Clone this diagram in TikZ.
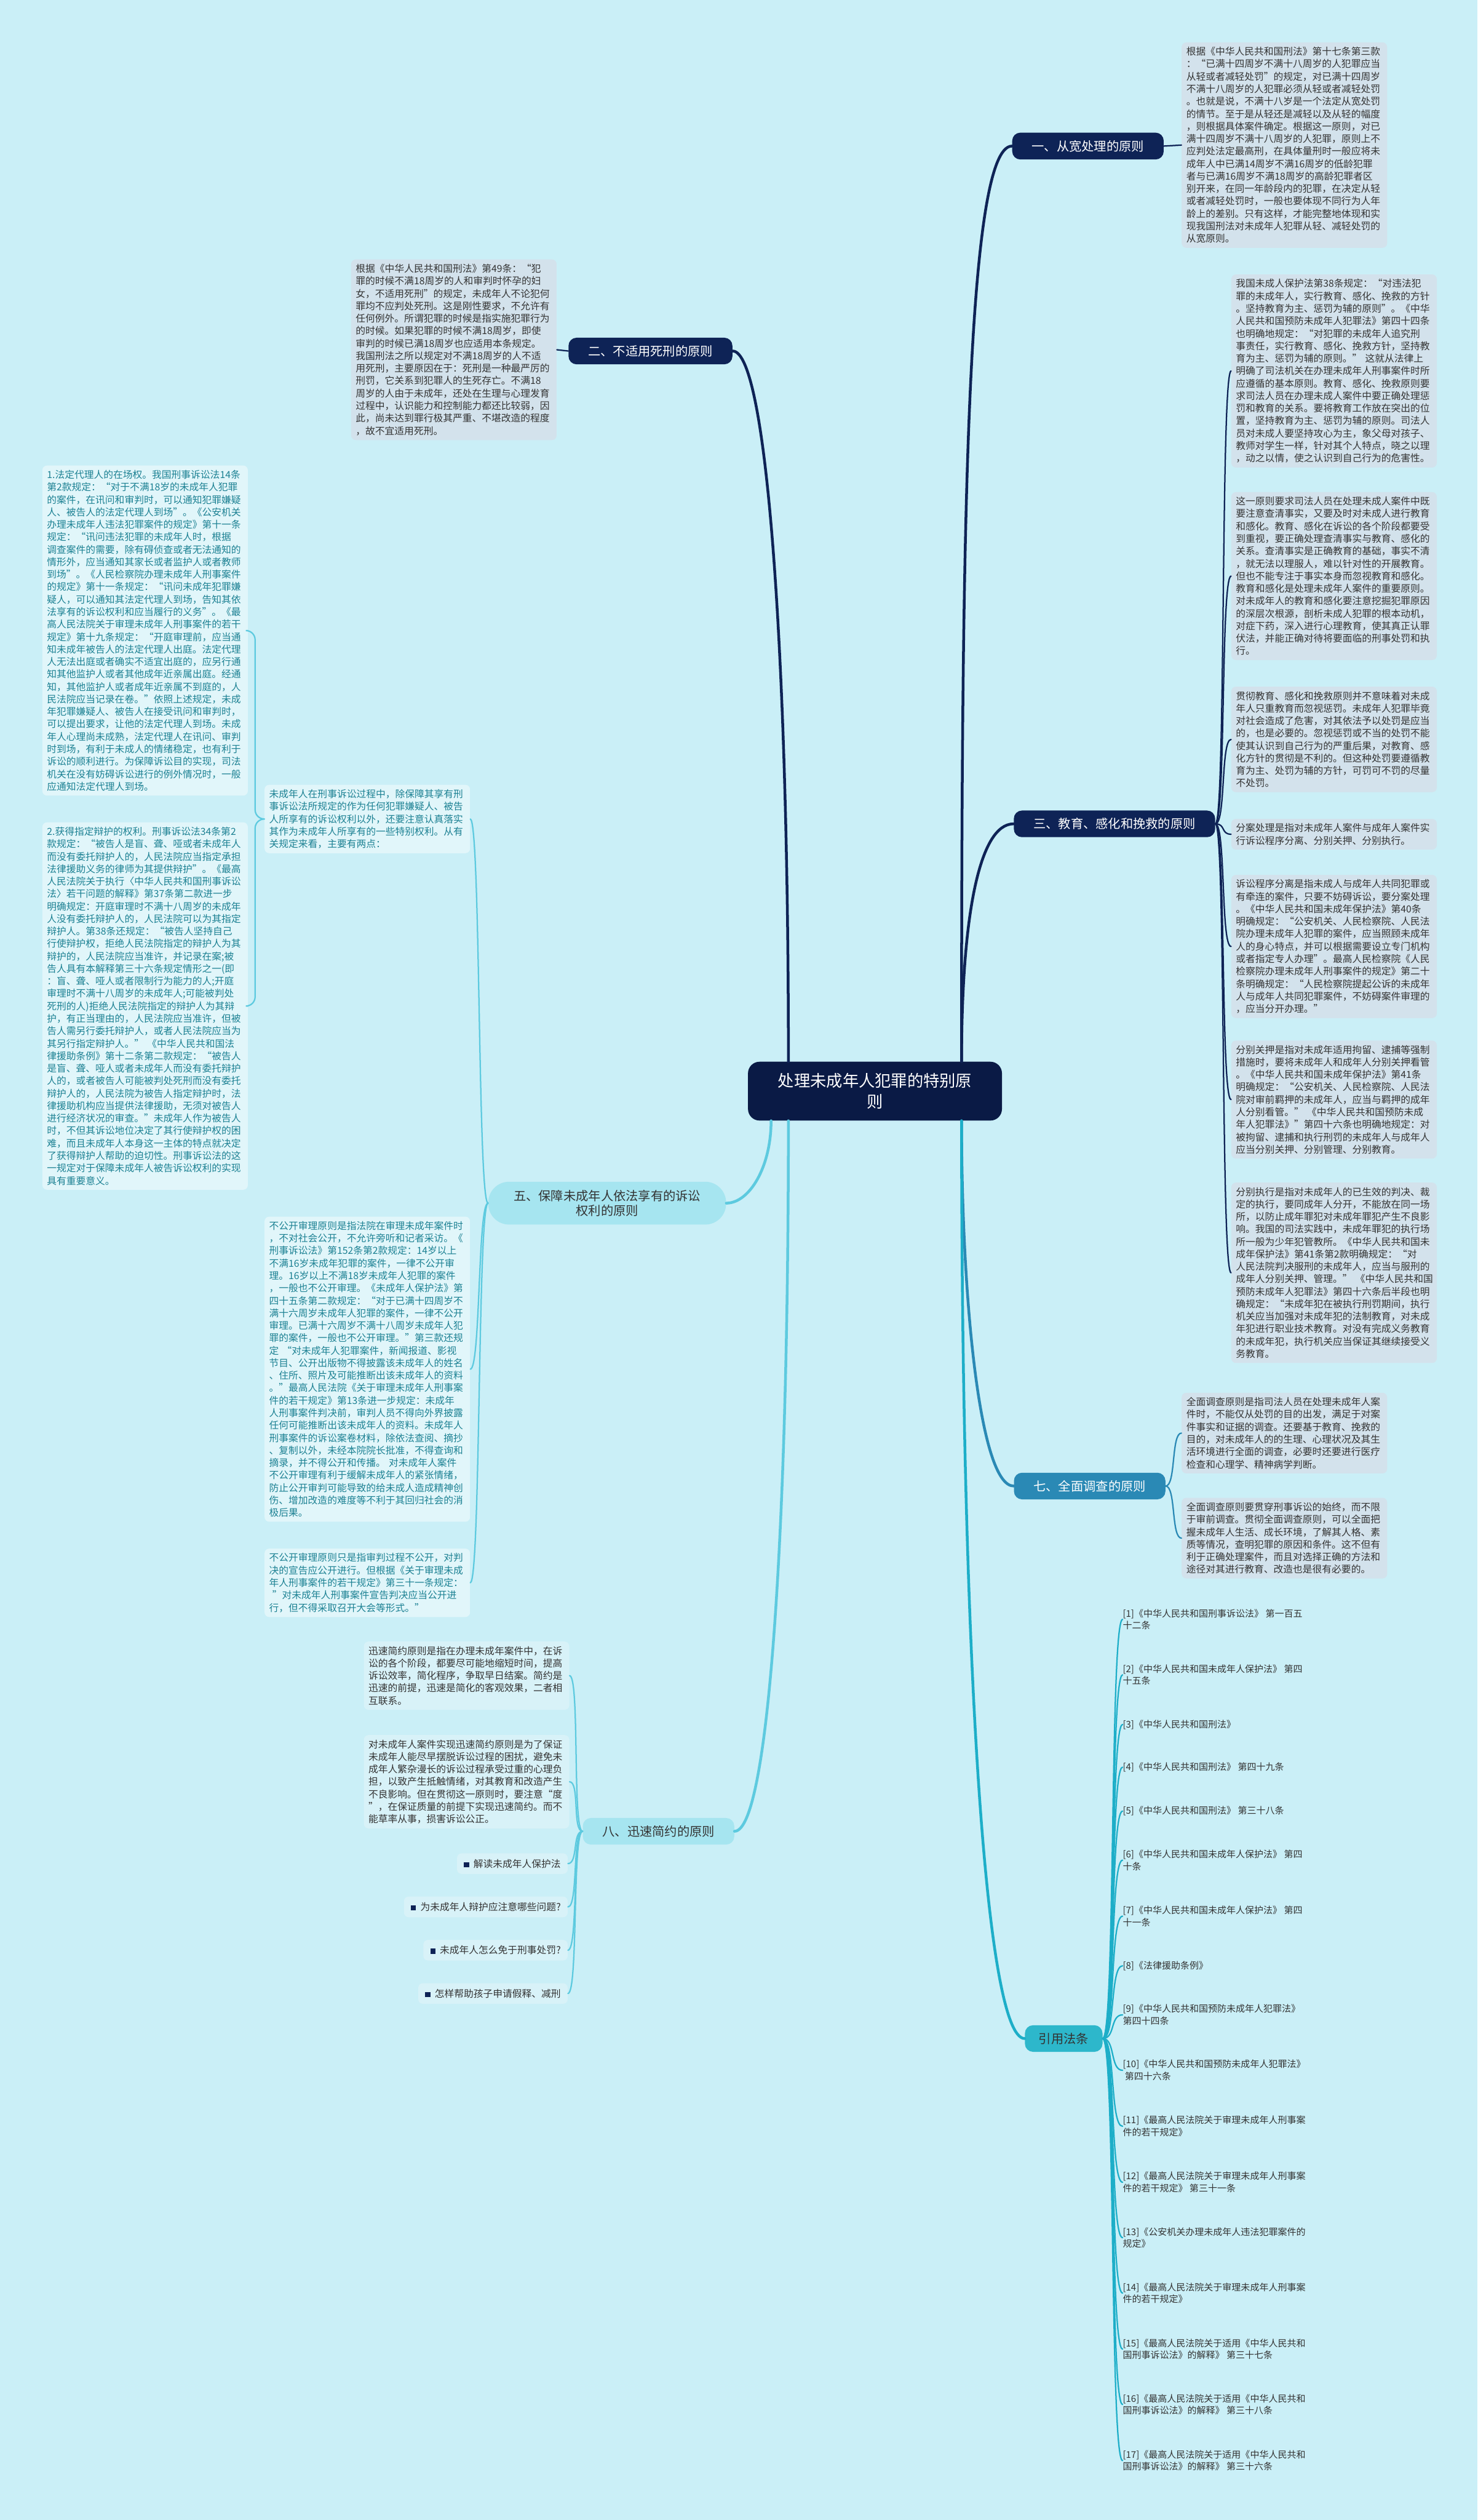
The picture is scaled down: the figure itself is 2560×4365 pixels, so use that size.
\documentclass[tikz,border=0pt]{standalone}
\usepackage{fontspec}
\setmainfont{Noto Sans CJK SC}
\usetikzlibrary{calc}

\definecolor{bgcol}{HTML}{CAEFF7}
\definecolor{ctrcol}{HTML}{0A1A45}
\definecolor{navy}{HTML}{0E2356}
\definecolor{bluecol}{HTML}{2A89B5}
\definecolor{cyanfill}{HTML}{A6E5F0}
\definecolor{cyanline}{HTML}{5DCADF}
\definecolor{tealfill}{HTML}{2DB7CB}
\definecolor{tealline}{HTML}{1DAEC8}
\definecolor{leafgray}{HTML}{D3E2EC}
\definecolor{leaflight}{HTML}{E1F6FA}
\definecolor{leaftext}{HTML}{1C8193}
\definecolor{leafcyan}{HTML}{D8F2F8}
\definecolor{textdark}{HTML}{333333}

\begin{document}
\begin{tikzpicture}[x=0.5pt, y=-0.5pt,
  root/.style={rectangle, rounded corners=10pt, fill=ctrcol, text=white,
    font=\fontsize{14}{18}\selectfont, align=center, inner xsep=26pt, inner ysep=10pt},
  topic/.style={rectangle, rounded corners=7pt, font=\fontsize{10.8}{13}\selectfont,
    align=center, inner xsep=17pt, inner ysep=6.5pt},
  darktopic/.style={topic, fill=navy, text=white},
  bluetopic/.style={topic, fill=bluecol, text=white},
  cyantopic/.style={topic, fill=cyanfill, text=textdark},
  tealtopic/.style={topic, fill=tealfill, text=textdark},
  leaf/.style={rectangle, rounded corners=4pt, anchor=north west, align=left,
    text width=170pt, inner xsep=4pt, inner ysep=4pt, font=\fontsize{8.4}{10.8}\selectfont},
  grayleaf/.style={leaf, fill=leafgray, text=textdark},
  lightleaf/.style={leaf, fill=leaflight, text=leaftext},
  cyanleaf/.style={leaf, fill=leafcyan, text=textdark},
  tipbox/.style={rectangle, rounded corners=4pt, anchor=east, fill=leafcyan, text=textdark,
    font=\fontsize{8.4}{10.8}\selectfont, inner xsep=6pt, inner ysep=5pt},
  refitem/.style={anchor=west, align=left, inner sep=0pt, text=textdark,
    font=\fontsize{8}{10.5}\selectfont},
  trunk/.style={line width=2.4pt, line cap=round},
  twig/.style={line width=1.2pt, line cap=round}
]
\fill[bgcol] (0,0) rectangle (2560,4365);
\useasboundingbox (0,0) rectangle (2560,4365);

\node[root] (ctr) at (1516,1890) {处理未成年人犯罪的特别原\\则};
\node[darktopic] (kuan) at (1885,253) {一、从宽处理的原则};
\node[darktopic] (sixing) at (1127,608) {二、不适用死刑的原则};
\node[darktopic] (jiaoyu) at (1931,1427) {三、教育、感化和挽救的原则};
\node[cyantopic, rounded corners=18pt, inner xsep=22pt, inner ysep=7pt] (susong) at (1052,2084)
  {五、保障未成年人依法享有的诉讼\\权利的原则};
\node[bluetopic] (diaocha) at (1888,2574) {七、全面调查的原则};
\node[cyantopic] (xunsu) at (1141,3172) {八、迅速简约的原则};
\node[tealtopic, inner xsep=12pt] (fatiao) at (1843,3531) {引用法条};

\node[grayleaf] (kuanT) at (2047,73) {根据《中华人民共和国刑法》第十七条第三款\\
：“已满十四周岁不满十八周岁的人犯罪应当\\
从轻或者减轻处罚”的规定，对已满十四周岁\\
不满十八周岁的人犯罪必须从轻或者减轻处罚\\
。也就是说，不满十八岁是一个法定从宽处罚\\
的情节。至于是从轻还是减轻以及从轻的幅度\\
，则根据具体案件确定。根据这一原则，对已\\
满十四周岁不满十八周岁的人犯罪，原则上不\\
应判处法定最高刑，在具体量刑时一般应将未\\
成年人中已满14周岁不满16周岁的低龄犯罪\\
者与已满16周岁不满18周岁的高龄犯罪者区\\
别开来，在同一年龄段内的犯罪，在决定从轻\\
或者减轻处罚时，一般也要体现不同行为人年\\
龄上的差别。只有这样，才能完整地体现和实\\
现我国刑法对未成年人犯罪从轻、减轻处罚的\\
从宽原则。};

\node[grayleaf] (sixingT) at (608,449) {根据《中华人民共和国刑法》第49条：“犯\\
罪的时候不满18周岁的人和审判时怀孕的妇\\
女，不适用死刑”的规定，未成年人不论犯何\\
罪均不应判处死刑。这是刚性要求，不允许有\\
任何例外。所谓犯罪的时候是指实施犯罪行为\\
的时候。如果犯罪的时候不满18周岁，即使\\
审判的时候已满18周岁也应适用本条规定。\\
我国刑法之所以规定对不满18周岁的人不适\\
用死刑，主要原因在于：死刑是一种最严厉的\\
刑罚，它关系到犯罪人的生死存亡。不满18\\
周岁的人由于未成年，还处在生理与心理发育\\
过程中，认识能力和控制能力都还比较弱，因\\
此，尚未达到罪行极其严重、不堪改造的程度\\
，故不宜适用死刑。};

\node[grayleaf] (jiaoyuA) at (2133,475) {我国未成人保护法第38条规定：“对违法犯\\
罪的未成年人，实行教育、感化、挽救的方针\\
。坚持教育为主、惩罚为辅的原则”。《中华\\
人民共和国预防未成年人犯罪法》第四十四条\\
也明确地规定：“对犯罪的未成年人追究刑\\
事责任，实行教育、感化、挽救方针，坚持教\\
育为主、惩罚为辅的原则。”~这就从法律上\\
明确了司法机关在办理未成年人刑事案件时所\\
应遵循的基本原则。教育、感化、挽救原则要\\
求司法人员在办理未成人案件中要正确处理惩\\
罚和教育的关系。要将教育工作放在突出的位\\
置，坚持教育为主、惩罚为辅的原则。司法人\\
员对未成人要坚持攻心为主，象父母对孩子、\\
教师对学生一样，针对其个人特点，晓之以理\\
，动之以情，使之认识到自己行为的危害性。};

\node[grayleaf] (jiaoyuB) at (2133,852) {这一原则要求司法人员在处理未成人案件中既\\
要注意查清事实，又要及时对未成人进行教育\\
和感化。教育、感化在诉讼的各个阶段都要受\\
到重视，要正确处理查清事实与教育、感化的\\
关系。查清事实是正确教育的基础，事实不清\\
，就无法以理服人，难以针对性的开展教育。\\
但也不能专注于事实本身而忽视教育和感化。\\
教育和感化是处理未成年人案件的重要原则。\\
对未成年人的教育和感化要注意挖掘犯罪原因\\
的深层次根源，剖析未成人犯罪的根本动机，\\
对症下药，深入进行心理教育，使其真正认罪\\
伏法，并能正确对待将要面临的刑事处罚和执\\
行。};

\node[grayleaf] (jiaoyuC) at (2133,1189) {贯彻教育、感化和挽救原则并不意味着对未成\\
年人只重教育而忽视惩罚。未成年人犯罪毕竟\\
对社会造成了危害，对其依法予以处罚是应当\\
的，也是必要的。忽视惩罚或不当的处罚不能\\
使其认识到自己行为的严重后果，对教育、感\\
化方针的贯彻是不利的。但这种处罚要遵循教\\
育为主、处罚为辅的方针，可罚可不罚的尽量\\
不处罚。};

\node[grayleaf] (jiaoyuD) at (2133,1418) {分案处理是指对未成年人案件与成年人案件实\\
行诉讼程序分离、分别关押、分别执行。};

\node[grayleaf] (jiaoyuE) at (2133,1515) {诉讼程序分离是指未成人与成年人共同犯罪或\\
有牵连的案件，只要不妨碍诉讼，要分案处理\\
。《中华人民共和国未成年保护法》第40条\\
明确规定：“公安机关、人民检察院、人民法\\
院办理未成年人犯罪的案件，应当照顾未成年\\
人的身心特点，并可以根据需要设立专门机构\\
或者指定专人办理”。最高人民检察院《人民\\
检察院办理未成年人刑事案件的规定》第二十\\
条明确规定：“人民检察院提起公诉的未成年\\
人与成年人共同犯罪案件，不妨碍案件审理的\\
，应当分开办理。”};

\node[grayleaf] (jiaoyuF) at (2133,1802) {分别关押是指对未成年适用拘留、逮捕等强制\\
措施时，要将未成年人和成年人分别关押看管\\
。《中华人民共和国未成年保护法》第41条\\
明确规定：“公安机关、人民检察院、人民法\\
院对审前羁押的未成年人，应当与羁押的成年\\
人分别看管。”~《中华人民共和国预防未成\\
年人犯罪法》”第四十六条也明确地规定：对\\
被拘留、逮捕和执行刑罚的未成年人与成年人\\
应当分别关押、分别管理、分别教育。};

\node[grayleaf] (jiaoyuG) at (2133,2048) {分别执行是指对未成年人的已生效的判决、裁\\
定的执行，要同成年人分开，不能放在同一场\\
所，以防止成年罪犯对未成年罪犯产生不良影\\
响。我国的司法实践中，未成年罪犯的执行场\\
所一般为少年犯管教所。《中华人民共和国未\\
成年保护法》第41条第2款明确规定：“对\\
人民法院判决服刑的未成年人，应当与服刑的\\
成年人分别关押、管理。”~《中华人民共和国\\
预防未成年人犯罪法》第四十六条后半段也明\\
确规定：“未成年犯在被执行刑罚期间，执行\\
机关应当加强对未成年犯的法制教育，对未成\\
年犯进行职业技术教育。对没有完成义务教育\\
的未成年犯，执行机关应当保证其继续接受义\\
务教育。};

\node[grayleaf] (diaochaA) at (2047,2412) {全面调查原则是指司法人员在处理未成年人案\\
件时，不能仅从处罚的目的出发，满足于对案\\
件事实和证据的调查。还要基于教育、挽救的\\
目的，对未成年人的的生理、心理状况及其生\\
活环境进行全面的调查，必要时还要进行医疗\\
检查和心理学、精神病学判断。};

\node[grayleaf] (diaochaB) at (2047,2594) {全面调查原则要贯穿刑事诉讼的始终，而不限\\
于审前调查。贯彻全面调查原则，可以全面把\\
握未成年人生活、成长环境，了解其人格、素\\
质等情况，查明犯罪的原因和条件。这不但有\\
利于正确处理案件，而且对选择正确的方法和\\
途径对其进行教育、改造也是很有必要的。};

\node[lightleaf] (susongM) at (458,1359) {未成年人在刑事诉讼过程中，除保障其享有刑\\
事诉讼法所规定的作为任何犯罪嫌疑人、被告\\
人所享有的诉讼权利以外，还要注意认真落实\\
其作为未成年人所享有的一些特别权利。从有\\
关规定来看，主要有两点：};

\node[lightleaf] (susongL1) at (73,806) {1.法定代理人的在场权。我国刑事诉讼法14条\\
第2款规定：“对于不满18岁的未成年人犯罪\\
的案件，在讯问和审判时，可以通知犯罪嫌疑\\
人、被告人的法定代理人到场”。《公安机关\\
办理未成年人违法犯罪案件的规定》第十一条\\
规定：“讯问违法犯罪的未成年人时，根据\\
调查案件的需要，除有碍侦查或者无法通知的\\
情形外，应当通知其家长或者监护人或者教师\\
到场”。《人民检察院办理未成年人刑事案件\\
的规定》第十一条规定：“讯问未成年犯罪嫌\\
疑人，可以通知其法定代理人到场，告知其依\\
法享有的诉讼权利和应当履行的义务”。《最\\
高人民法院关于审理未成年人刑事案件的若干\\
规定》第十九条规定：“开庭审理前，应当通\\
知未成年被告人的法定代理人出庭。法定代理\\
人无法出庭或者确实不适宜出庭的，应另行通\\
知其他监护人或者其他成年近亲属出庭。经通\\
知，其他监护人或者成年近亲属不到庭的，人\\
民法院应当记录在卷。”依照上述规定，未成\\
年犯罪嫌疑人、被告人在接受讯问和审判时，\\
可以提出要求，让他的法定代理人到场。未成\\
年人心理尚未成熟，法定代理人在讯问、审判\\
时到场，有利于未成人的情绪稳定，也有利于\\
诉讼的顺利进行。为保障诉讼目的实现，司法\\
机关在没有妨碍诉讼进行的例外情况时，一般\\
应通知法定代理人到场。};

\node[lightleaf] (susongL2) at (73,1424) {2.获得指定辩护的权利。刑事诉讼法34条第2\\
款规定：“被告人是盲、聋、哑或者未成年人\\
而没有委托辩护人的，人民法院应当指定承担\\
法律援助义务的律师为其提供辩护”。《最高\\
人民法院关于执行〈中华人民共和国刑事诉讼\\
法〉若干问题的解释》第37条第二款进一步\\
明确规定：开庭审理时不满十八周岁的未成年\\
人没有委托辩护人的，人民法院可以为其指定\\
辩护人。第38条还规定：“被告人坚持自己\\
行使辩护权，拒绝人民法院指定的辩护人为其\\
辩护的，人民法院应当准许，并记录在案;被\\
告人具有本解释第三十六条规定情形之一(即\\
：盲、聋、哑人或者限制行为能力的人;开庭\\
审理时不满十八周岁的未成年人;可能被判处\\
死刑的人)拒绝人民法院指定的辩护人为其辩\\
护，有正当理由的，人民法院应当准许，但被\\
告人需另行委托辩护人，或者人民法院应当为\\
其另行指定辩护人。”~《中华人民共和国法\\
律援助条例》第十二条第二款规定：“被告人\\
是盲、聋、哑人或者未成年人而没有委托辩护\\
人的，或者被告人可能被判处死刑而没有委托\\
辩护人的，人民法院为被告人指定辩护时，法\\
律援助机构应当提供法律援助，无须对被告人\\
进行经济状况的审查。”未成年人作为被告人\\
时，不但其诉讼地位决定了其行使辩护权的困\\
难，而且未成年人本身这一主体的特点就决定\\
了获得辩护人帮助的迫切性。刑事诉讼法的这\\
一规定对于保障未成年人被告诉讼权利的实现\\
具有重要意义。};

\node[lightleaf] (susongB) at (458,2107) {不公开审理原则是指法院在审理未成年案件时\\
，不对社会公开，不允许旁听和记者采访。《\\
刑事诉讼法》第152条第2款规定：14岁以上\\
不满16岁未成年犯罪的案件，一律不公开审\\
理。16岁以上不满18岁未成年人犯罪的案件\\
，一般也不公开审理。《未成年人保护法》第\\
四十五条第二款规定：“对于已满十四周岁不\\
满十六周岁未成年人犯罪的案件，一律不公开\\
审理。已满十六周岁不满十八周岁未成年人犯\\
罪的案件，一般也不公开审理。”第三款还规\\
定~“对未成年人犯罪案件，新闻报道、影视\\
节目、公开出版物不得披露该未成年人的姓名\\
、住所、照片及可能推断出该未成年人的资料\\
。”最高人民法院《关于审理未成年人刑事案\\
件的若干规定》第13条进一步规定：未成年\\
人刑事案件判决前，审判人员不得向外界披露\\
任何可能推断出该未成年人的资料。未成年人\\
刑事案件的诉讼案卷材料，除依法查阅、摘抄\\
、复制以外，未经本院院长批准，不得查询和\\
摘录，并不得公开和传播。~对未成年人案件\\
不公开审理有利于缓解未成年人的紧张情绪，\\
防止公开审判可能导致的给未成人造成精神创\\
伤、增加改造的难度等不利于其回归社会的消\\
极后果。};

\node[lightleaf] (susongC) at (458,2682) {不公开审理原则只是指审判过程不公开，对判\\
决的宣告应公开进行。但根据《关于审理未成\\
年人刑事案件的若干规定》第三十一条规定：\\
~”对未成年人刑事案件宣告判决应当公开进\\
行，但不得采取召开大会等形式。”};

\node[cyanleaf] (xunsuA) at (630,2843) {迅速简约原则是指在办理未成年案件中，在诉\\
讼的各个阶段，都要尽可能地缩短时间，提高\\
诉讼效率，简化程序，争取早日结案。简约是\\
迅速的前提，迅速是简化的客观效果，二者相\\
互联系。};

\node[cyanleaf] (xunsuB) at (630,3005) {对未成年人案件实现迅速简约原则是为了保证\\
未成年人能尽早摆脱诉讼过程的困扰，避免未\\
成年人繁杂漫长的诉讼过程承受过重的心理负\\
担，以致产生抵触情绪，对其教育和改造产生\\
不良影响。但在贯彻这一原则时，要注意“度\\
”，在保证质量的前提下实现迅速简约。而不\\
能草率从事，损害诉讼公正。};

\foreach \yy/\btext [count=\i] in {3228/解读未成年人保护法, 3303/为未成年人辩护应注意哪些问题?,
    3378/未成年人怎么免于刑事处罚?, 3453/怎样帮助孩子申请假释、减刑} {
  \node[tipbox] (tip\i) at (984,\yy) {\textcolor{navy}{\rule{4.5pt}{4.5pt}}~~\btext};
  \draw[twig, cyanline] (xunsu.west) .. controls +(-18,0) and +(18,0) .. (tip\i.east);
}

\foreach \yy/\reftext [count=\i] in {
    2805/{[1]《中华人民共和国刑事诉讼法》~第一百五\\十二条},
    2901/{[2]《中华人民共和国未成年人保护法》~第四\\十五条},
    2987/{[3]《中华人民共和国刑法》},
    3061/{[4]《中华人民共和国刑法》~第四十九条},
    3137/{[5]《中华人民共和国刑法》~第三十八条},
    3222/{[6]《中华人民共和国未成年人保护法》~第四\\十条},
    3319/{[7]《中华人民共和国未成年人保护法》~第四\\十一条},
    3405/{[8]《法律援助条例》},
    3490/{[9]《中华人民共和国预防未成年人犯罪法》\\第四十四条},
    3586/{[10]《中华人民共和国预防未成年人犯罪法》\\~第四十六条},
    3683/{[11]《最高人民法院关于审理未成年人刑事案\\件的若干规定》},
    3780/{[12]《最高人民法院关于审理未成年人刑事案\\件的若干规定》~第三十一条},
    3876/{[13]《公安机关办理未成年人违法犯罪案件的\\规定》},
    3972/{[14]《最高人民法院关于审理未成年人刑事案\\件的若干规定》},
    4069/{[15]《最高人民法院关于适用《中华人民共和\\国刑事诉讼法》的解释》~第三十七条},
    4165/{[16]《最高人民法院关于适用《中华人民共和\\国刑事诉讼法》的解释》~第三十八条},
    4262/{[17]《最高人民法院关于适用《中华人民共和\\国刑事诉讼法》的解释》~第三十六条}} {
  \node[refitem] (ref\i) at (1945,\yy) {\reftext};
  \draw[twig, tealline] (fatiao.east) .. controls +(22,0) and +(-22,0) .. (ref\i.west);
}

\draw[trunk, navy] ($(ctr.north)+(150,0)$) .. controls +(0,-900) and +(-80,0) .. (kuan.west);
\draw[trunk, navy] ($(ctr.north)+(150,0)$) .. controls +(0,-250) and +(-60,0) .. (jiaoyu.west);
\draw[trunk, navy] ($(ctr.north)+(-150,0)$) .. controls +(0,-700) and +(60,0) .. (sixing.east);
\draw[trunk, bluecol] ($(ctr.south)+(150,0)$) .. controls +(0,300) and +(-60,0) .. (diaocha.west);
\draw[trunk, tealline] ($(ctr.south)+(150,0)$) .. controls +(0,900) and +(-70,0) .. (fatiao.west);
\draw[trunk, cyanline] ($(ctr.south)+(-180,0)$) .. controls +(0,80) and +(40,0) .. (susong.east);
\draw[trunk, cyanline] ($(ctr.south)+(-150,0)$) .. controls +(0,700) and +(60,0) .. (xunsu.east);

\draw[twig, navy] (kuan.east) -- (kuanT.west);
\draw[twig, navy] (sixing.west) -- (sixingT.east);
\foreach \n in {A,B,C,D,E,F,G}
  \draw[twig, navy] (jiaoyu.east) .. controls +(18,0) and +(-18,0) .. (jiaoyu\n.west);
\foreach \n in {A,B}
  \draw[twig, bluecol] (diaocha.east) .. controls +(18,0) and +(-18,0) .. (diaocha\n.west);
\foreach \n in {M,B,C}
  \draw[twig, cyanline] (susong.west) .. controls +(-18,0) and +(18,0) .. (susong\n.east);
\draw[twig, cyanline, rounded corners=8pt] (susongM.west) -- ++(-16,0) |- (susongL1.east);
\draw[twig, cyanline, rounded corners=8pt] (susongM.west) -- ++(-16,0) |- (susongL2.east);
\foreach \n in {A,B}
  \draw[twig, cyanline] (xunsu.west) .. controls +(-18,0) and +(18,0) .. (xunsu\n.east);
\end{tikzpicture}
\end{document}
